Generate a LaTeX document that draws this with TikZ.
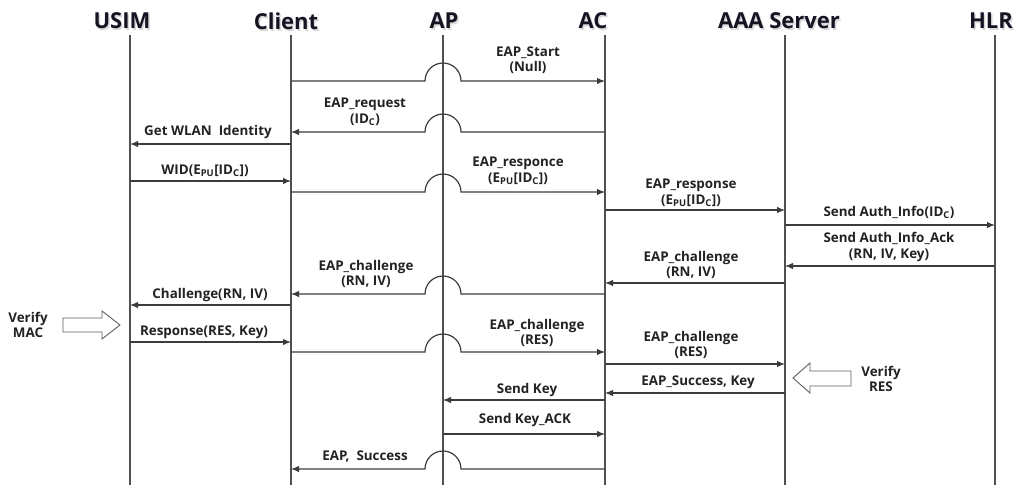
\documentclass[tikz,border=0pt]{standalone}
\usepackage{fontspec}
\setmainfont{Open Sans}
\usetikzlibrary{arrows.meta,calc}

\definecolor{linegray}{HTML}{3C3C3C}
\definecolor{lifegray}{HTML}{505050}
\definecolor{headink}{HTML}{141422}
\definecolor{labelink}{HTML}{222222}
\definecolor{blockgray}{HTML}{606060}

% participant heading with a soft drop shadow
\newcommand\lifehead[3]{%
  \node[headtext, text=gray, opacity=0.3] at ($(#2)+(1.5,1.8)$) {#3};
  \node[headtext] (#1) at (#2) {#3};
}

\begin{document}
\begin{tikzpicture}[x=1pt,y=-1pt,
  headtext/.style={font=\bfseries\fontsize{22}{25}\selectfont, text=headink, inner sep=0pt},
  lifeline/.style={draw=lifegray, line width=1.2pt},
  msg/.style={draw=linegray, line width=1.2pt},
  tipend/.style={-{Latex[length=8pt,width=6.5pt]}},
  tipstart/.style={{Latex[length=8pt,width=6.5pt]}-},
  lbl/.style={font=\bfseries\fontsize{13.4}{15.5}\selectfont, text=labelink, align=center, inner sep=0pt},
  blockarrow/.style={draw=blockgray, line width=0.9pt, fill=white, line join=miter}
]
\useasboundingbox (0,0) rectangle (1019,485);

% lifeline positions
\coordinate (usim) at (130,35);
\coordinate (client) at (291,35);
\coordinate (ap) at (443,35);
\coordinate (ac) at (605,35);
\coordinate (aaa) at (785,35);
\coordinate (hlr) at (995,35);
\coordinate (bottom) at (0,485);

% heading anchors
\coordinate (hp-usim) at (122,21);
\coordinate (hp-client) at (286,21);
\coordinate (hp-ap) at (444,21);
\coordinate (hp-ac) at (593,21);
\coordinate (hp-aaa) at (779,21);
\coordinate (hp-hlr) at (991,21);

\lifehead{h-usim}{hp-usim}{USIM}
\lifehead{h-client}{hp-client}{Client}
\lifehead{h-ap}{hp-ap}{AP}
\lifehead{h-ac}{hp-ac}{AC}
\lifehead{h-aaa}{hp-aaa}{AAA Server}
\lifehead{h-hlr}{hp-hlr}{HLR}

\foreach \p in {usim,client,ap,ac,aaa,hlr}
  \draw[lifeline] (\p) -- (\p |- bottom);

% message rows
\foreach \n/\y in {1/81,2/132,3/144,4/181,5/192,6/210,7/225,8/266,9/283,
                   10/294,11/305,12/342,13/352,14/364,15/393,16/400,17/434,18/469}
  \coordinate (r\n) at (0,\y);

% messages that hop over the AP lifeline
\newcommand\hopmsg[2]{%
  \draw[msg,#2] (client |- r#1) -- ($(ap |- r#1)+(-18,0)$)
    arc[start angle=180, end angle=360, radius=18] -- (ac |- r#1);}

\hopmsg{1}{tipend}
\hopmsg{2}{tipstart}
\hopmsg{5}{tipend}
\hopmsg{10}{tipstart}
\hopmsg{13}{tipend}
\hopmsg{18}{tipstart}

% direct messages
\draw[msg,tipend] (client |- r3) -- (usim |- r3);
\draw[msg,tipend] (usim |- r4) -- (client |- r4);
\draw[msg,tipend] (ac |- r6) -- (aaa |- r6);
\draw[msg,tipend] (aaa |- r7) -- (hlr |- r7);
\draw[msg,tipend] (hlr |- r8) -- (aaa |- r8);
\draw[msg,tipend] (aaa |- r9) -- (ac |- r9);
\draw[msg,tipend] (client |- r11) -- (usim |- r11);
\draw[msg,tipend] (usim |- r12) -- (client |- r12);
\draw[msg,tipend] (ac |- r14) -- (aaa |- r14);
\draw[msg,tipend] (aaa |- r15) -- (ac |- r15);
\draw[msg,tipend] (ac |- r16) -- (ap |- r16);
\draw[msg,tipend] (ap |- r17) -- (ac |- r17);

% message labels
\node[lbl] (l1) at (528,60) {EAP\_Start\\(Null)};
\node[lbl] (l2) at (365,112) {EAP\_request\\(ID\textsubscript{C})};
\node[lbl] (l3) at (208,132) {Get WLAN\ \ Identity};
\node[lbl] (l4) at (205,171) {WID(E\textsubscript{PU}[ID\textsubscript{C}])};
\node[lbl] (l5) at (518,171) {EAP\_responce\\(E\textsubscript{PU}[ID\textsubscript{C}])};
\node[lbl] (l6) at (691,193) {EAP\_response\\(E\textsubscript{PU}[ID\textsubscript{C}])};
\node[lbl] (l7) at (889,212) {Send Auth\_Info(ID\textsubscript{C})};
\node[lbl] (l8) at (889,247) {Send Auth\_Info\_Ack\\(RN, IV, Key)};
\node[lbl] (l9) at (691,265) {EAP\_challenge\\(RN, IV)};
\node[lbl] (l10) at (366,274) {EAP\_challenge\\(RN, IV)};
\node[lbl] (l11) at (210,295) {Challenge(RN, IV)};
\node[lbl] (l12) at (204,332) {Response(RES, Key)};
\node[lbl] (l13) at (537,333) {EAP\_challenge\\(RES)};
\node[lbl] (l14) at (691,345) {EAP\_challenge\\(RES)};
\node[lbl] (l15) at (698,382) {EAP\_Success, Key};
\node[lbl] (l16) at (527,390) {Send Key};
\node[lbl] (l17) at (525,420) {Send Key\_ACK};
\node[lbl] (l18) at (365,457) {EAP,\ \ Success};

% verification notes with hollow block arrows
\draw[blockarrow] (63,318) -- (102,318) -- (102,311) -- (120,325)
  -- (102,339) -- (102,332) -- (63,332) -- cycle;
\coordinate (vmac-tip) at (120,325);
\node[lbl] (vmac) at (28,325) {Verify\\MAC};
\draw[blockarrow] (851,371) -- (810,371) -- (810,363) -- (793,378)
  -- (810,393) -- (810,386) -- (851,386) -- cycle;
\coordinate (vres-tip) at (793,378);
\node[lbl] (vres) at (881,379) {Verify\\RES};
\end{tikzpicture}
\end{document}
